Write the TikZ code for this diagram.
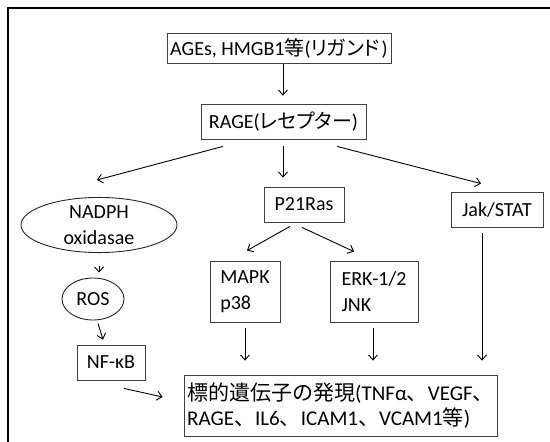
\documentclass[tikz,border=0pt]{standalone}
\usepackage{fontspec}
\setmainfont{Carlito}
\newfontfamily\jpfont[RawFeature=+palt]{Noto Sans CJK JP}
\newfontfamily\jpfull{Noto Sans CJK JP}
\newcommand{\jp}[1]{{\jpfont #1}}
\newcommand{\jf}[1]{{\jpfull #1}}
\usetikzlibrary{arrows.meta,shapes.geometric}
\begin{document}
\begin{tikzpicture}[x=1pt,y=-1pt,
  font=\fontsize{20}{26}\selectfont,
  box/.style={draw=black!75, line width=0.8pt, rectangle, inner sep=0pt, align=center},
  oval/.style={draw=black!85, line width=0.9pt, ellipse, inner sep=0pt, align=center},
  arr/.style={draw=black, line width=0.9pt, -{Straight Barb[length=5pt,width=9pt]}},
]
\useasboundingbox (0,0) rectangle (550,442);
\fill[white] (0,0) rectangle (550,442);
\draw[line width=2.5pt] (8,442) -- (8,8) -- (550,8);

\node[box, minimum width=224pt, minimum height=30pt] (ages) at (279,48) {AGEs, HMGB1\jp{等}(\jp{リガンド}\kern2pt)};
\node[box, minimum width=165pt, minimum height=35pt] (rage) at (283.5,121.5) {RAGE(\jp{レセプター})};
\node[oval, minimum width=156pt, minimum height=50pt] (nadph) at (99,225) {NADPH\\oxidasae};
\node[box, minimum width=80pt, minimum height=35pt] (p21) at (304,204.5) {P21Ras};
\node[box, minimum width=92pt, minimum height=35pt] (jak) at (497,209.5) {Jak/STAT};
\node[box, minimum width=70pt, minimum height=61pt, align=left] (mapk) at (245,291.5) {MAPK\\p38};
\node[box, minimum width=88pt, minimum height=61pt, align=left] (erk) at (374,291.5) {ERK-1/2\\JNK};
\node[oval, minimum width=62pt, minimum height=42pt] (ros) at (93,299) {ROS};
\node[box, minimum width=68pt, minimum height=35pt] (nfkb) at (111,362.5) {NF-κB};
\node[box, minimum width=313pt, minimum height=61pt, align=left, font=\fontsize{21}{25}\selectfont] (target) at (340.5,405.5) {\jf{標的遺伝子の発現}(TNFα\jf{、}VEGF\jf{、}\\RAGE\jf{、}IL6\jf{、}ICAM1\jf{、}VCAM1\jf{等})};

\draw[arr] ([xshift=4pt,yshift=-1pt]ages.south) -- ([xshift=-0.5pt,yshift=8pt]rage.north);
\draw[arr] ([xshift=-60.5pt,yshift=-7pt]rage.south) -- ([xshift=-2pt,yshift=17pt]nadph.north);
\draw[arr] ([xshift=-0.5pt,yshift=-7pt]rage.south) -- ([xshift=-21pt,yshift=9pt]p21.north);
\draw[arr] ([xshift=53.5pt,yshift=-7pt]rage.south) -- ([xshift=-16pt,yshift=8pt]jak.north);
\draw[arr] ([yshift=-13pt]nadph.south) -- ([xshift=6pt,yshift=5pt]ros.north);
\draw[arr] ([xshift=5pt,yshift=-3pt]ros.south) -- ([xshift=-8pt,yshift=5pt]nfkb.north);
\draw[arr] ([xshift=13pt,yshift=-8pt]nfkb.south) -- ([xshift=-21pt,yshift=8.5pt]target.west);
\draw[arr] ([xshift=-14pt,yshift=-4pt]p21.south) -- ([xshift=2pt,yshift=10pt]mapk.north);
\draw[arr] ([xshift=-2pt,yshift=-5pt]p21.south) -- ([xshift=-20pt,yshift=9pt]erk.north);
\draw[arr] ([yshift=-6pt]mapk.south) -- ([xshift=-95.5pt,yshift=14pt]target.north);
\draw[arr] ([xshift=-1pt,yshift=-6pt]erk.south) -- ([xshift=32.5pt,yshift=14pt]target.north);
\draw[arr] ([xshift=-15pt,yshift=-6pt]jak.south) -- ([xshift=141.5pt,yshift=14pt]target.north);
\end{tikzpicture}
\end{document}
